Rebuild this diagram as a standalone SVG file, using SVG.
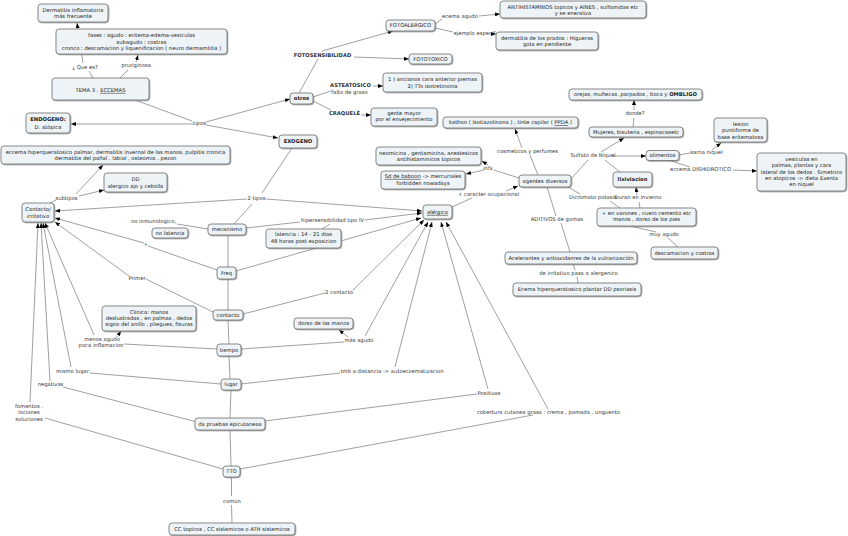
<svg xmlns="http://www.w3.org/2000/svg" width="848" height="536" viewBox="0 0 848 536">
<style>
.n rect{fill:#edf3f6;stroke:#6f6f6f;stroke-width:0.8;filter:url(#sh)}
text{font-family:"DejaVu Sans",Verdana,sans-serif;font-size:5.25px;fill:#222;text-anchor:middle}
.l text{fill:#333}
.b{font-weight:bold}
.i{font-style:italic}
.u{text-decoration:underline}
#connectors path{fill:none;stroke:#777;stroke-width:0.7}
#connectors path.a{marker-end:url(#ah)}
</style>
<defs>
<marker id="ah" viewBox="0 0 10 8" refX="10" refY="4" markerWidth="5" markerHeight="4" markerUnits="userSpaceOnUse" orient="auto"><path d="M0,0 L10,4 L0,8 z" fill="#000"/></marker>
<filter id="sh" x="-10%" y="-20%" width="130%" height="160%"><feDropShadow dx="0.8" dy="0.8" stdDeviation="0.5" flood-color="#777" flood-opacity="0.7"/></filter>
</defs>
<rect width="848" height="536" fill="#fff"/>
<g id="connectors">
<path d="M93,78 L89,71"/>
<path class="a" d="M83,63 L77,23"/>
<path d="M120,78 L128,70"/>
<path class="a" d="M136,62 L138,55"/>
<path d="M135,100 L192,121"/>
<path class="a" d="M193,124 L71,124"/>
<path class="a" d="M206,122 L290,99"/>
<path class="a" d="M206,125 L278,138"/>
<path d="M299,93 L318,59"/>
<path class="a" d="M322,51 L393,31"/>
<path class="a" d="M354,57 L409,59"/>
<path d="M313,97 L331,91"/>
<path class="a" d="M373,86 L383,86"/>
<path d="M313,101 L331,110"/>
<path class="a" d="M361,115 L371,115"/>
<path d="M435,24 L442,19"/>
<path class="a" d="M479,16 L500,14"/>
<path d="M435,28 L453,32"/>
<path class="a" d="M492,34 L496,34"/>
<path d="M292,148 L262,193"/>
<path d="M252,204 L234,224"/>
<path class="a" d="M247,199 L55,211"/>
<path class="a" d="M266,199 L422,211"/>
<path d="M56,200 L50,203"/>
<path class="a" d="M76,194 L103,165"/>
<path class="a" d="M79,196 L104,190"/>
<path d="M208,229 L177,224"/>
<path d="M246,228 L300,222"/>
<path class="a" d="M365,220 L422,213"/>
<path d="M330,224 L322,229"/>
<path d="M228,235 L228,267"/>
<path d="M217,270 L148,246"/>
<path class="a" d="M144,243 L55,218"/>
<path class="a" d="M236,271 L421,218"/>
<path d="M228,279 L228,310"/>
<path d="M213,312 L146,279"/>
<path class="a" d="M129,276 L55,222"/>
<path d="M243,314 L325,293"/>
<path class="a" d="M353,290 L424,220"/>
<path d="M228,320 L229,344"/>
<path d="M217,349 L124,344"/>
<path class="a" d="M117,337 L121,331"/>
<path class="a" d="M94,335 L45,223"/>
<path d="M241,349 L344,342"/>
<path class="a" d="M348,337 L339,330"/>
<path class="a" d="M365,336 L428,222"/>
<path d="M229,356 L230,379"/>
<path d="M221,384 L90,373"/>
<path class="a" d="M71,367 L43,223"/>
<path d="M241,384 L340,373"/>
<path class="a" d="M395,367 L432,222"/>
<path d="M231,390 L230,418"/>
<path d="M197,422 L63,387"/>
<path class="a" d="M50,381 L41,223"/>
<path d="M265,421 L477,394"/>
<path class="a" d="M488,389 L441,222"/>
<path d="M230,430 L231,466"/>
<path d="M223,469 L45,418"/>
<path class="a" d="M30,402 L38,223"/>
<path d="M240,469 L533,415"/>
<path class="a" d="M548,409 L446,222"/>
<path d="M231.5,477 L231.5,496"/>
<path d="M231.5,505 L232,523"/>
<path d="M452,207 L472,198"/>
<path class="a" d="M506,191 L518,186"/>
<path d="M538,175 L530,155"/>
<path class="a" d="M522,148 L515,129"/>
<path d="M519,178 L494,170"/>
<path class="a" d="M488,165 L482,161"/>
<path class="a" d="M484,170 L466,174"/>
<path d="M571,179 L588,160"/>
<path class="a" d="M601,152 L624,138"/>
<path class="a" d="M612,156 L646,156"/>
<path d="M605,160 L620,172"/>
<path d="M633,127 L634,118"/>
<path class="a" d="M634,110 L634,100"/>
<path d="M679,155 L690,153"/>
<path class="a" d="M712,150 L721,143"/>
<path d="M668,160 L690,167"/>
<path class="a" d="M733,170 L757,171"/>
<path d="M568,187 L580,194"/>
<path d="M610,201 L620,208"/>
<path d="M640,208 L639,202"/>
<path class="a" d="M637,195 L636,187"/>
<path d="M630,226 L656,232"/>
<path d="M668,238 L678,247"/>
<path d="M547,187 L556,216"/>
<path d="M561,223 L570,252"/>
<path d="M573,264 L575,270"/>
<path d="M577,277 L578,283"/>
</g>
<g id="labels" class="l">
<text x="85" y="68.9">¿ Que es?</text>
<text x="136" y="67">pruriginosa</text>
<text x="199.5" y="125.2">tipos</text>
<text class="b" x="322.5" y="57">FOTOSENSIBILIDAD</text>
<text class="b" x="350.5" y="87">ASTEATOSICO</text>
<text x="349.5" y="93.5">falto de graso</text>
<text class="b" x="344.5" y="115.2">CRAQUELÉ</text>
<text x="460" y="17.6">ecema agudo</text>
<text x="474.5" y="35.2">ejemplo especif</text>
<text x="527.5" y="152.6">cosmeticos y perfumes</text>
<text x="593" y="156.9">Sulfato de Niquel</text>
<text x="635" y="115.2">donde?</text>
<text x="706.5" y="153.6">sarna niquel</text>
<text x="700.5" y="170.9">eccema DISHIDROTICO</text>
<text x="488" y="170.2">infx</text>
<text x="488.5" y="196.2">+ caracter ocupacional</text>
<text x="593" y="199.2">Dicromato potasio</text>
<text x="638" y="199.2">Duran en invierno</text>
<text x="557" y="220.9">ADITIVOS de gomas</text>
<text x="578.5" y="275.2">de irritativo pasa a alergenico</text>
<text x="664" y="236.2">muy agudo</text>
<text x="256.5" y="200.2">2 tipos</text>
<text x="332.5" y="221.9">hipersensibilidad tipo IV</text>
<text x="153.5" y="222.9">no inmunologico,</text>
<text x="145.7" y="246.2">+</text>
<text x="137" y="279.6">Primer</text>
<text x="339" y="293.9">2 contacto</text>
<text x="102" y="340.9">menos agudo</text>
<text x="101" y="346.9">poca inflamacion</text>
<text x="359" y="341.9">más agudo</text>
<text x="72.5" y="372.9">mismo lugar</text>
<text x="50.5" y="386.2">negativas</text>
<text x="29" y="407.6">fomentos ,</text>
<text x="29" y="414.2">lociones</text>
<text x="29" y="420.6">soluciones</text>
<text x="392" y="372.6">tmb a distancia -&gt; autoeczematizacion</text>
<text x="489" y="395.2">Positivas</text>
<text x="548.5" y="413.6">cobertura cutanea grasa : crema , pomada , unguento</text>
<text x="232" y="502.6">común</text>
<text x="66.5" y="199.6">subtipos</text>
</g>
<g id="n_dermatitis" class="n"><rect x="38" y="4" width="70" height="18" rx="3"/><text x="73" y="11.9">Dermatitis inflamatoria</text><text x="73" y="17.9">más frecuente</text></g>
<g id="n_fases" class="n"><rect x="56" y="29" width="171" height="25" rx="3"/><text x="141.5" y="36.9">fases : agudo : eritema-edema-vesiculas</text><text x="141.5" y="43.5">subagudo : costras</text><text x="141.5" y="50.1">cronco : descamacion y liquenificacion ( neuro dermamtitis  )</text></g>
<g id="n_tema" class="n"><rect x="52" y="78" width="97" height="22" rx="3"/><text x="100.5" y="91.9">TEMA 3 . <tspan class="u">ECCEMAS</tspan></text></g>
<g id="n_endogeno" class="n"><rect x="26" y="113" width="44" height="20" rx="3"/><text class="b" x="48" y="121.2">ENDÓGENO:</text><text x="48" y="128.6">D. atópica</text></g>
<g id="n_eccema" class="n"><rect x="1" y="146" width="229" height="18" rx="3"/><text x="115.5" y="153.6">eccema hiperqueratosico palmar, dermatitis invernal de las manos, pulpitis cronica</text><text x="115.5" y="160.2">dermatitis del pañal , labial , osteomia , pezon</text></g>
<g id="n_dd" class="n"><rect x="104" y="173" width="63" height="19" rx="3"/><text x="135.5" y="181.4">DD</text><text x="135.5" y="187.7">alergico ajo y cebolla</text></g>
<g id="n_contacto" class="n"><rect x="22" y="203" width="32" height="19" rx="3"/><text class="i" x="38" y="211.2">Contacto/</text><text class="i" x="38" y="217.6">irritativo</text></g>
<g id="n_otros" class="n"><rect x="290" y="93" width="23" height="11" rx="3"/><text class="b" x="301.5" y="100.4">otros</text></g>
<g id="n_exogeno" class="n"><rect x="279" y="135" width="38" height="13" rx="3"/><text class="b" x="298" y="143.4">EXOGENO</text></g>
<g id="n_fotoalergico" class="n"><rect x="386" y="20" width="49" height="11" rx="3"/><text x="410.5" y="27.4">FOTOALERGICO</text></g>
<g id="n_fototoxico" class="n"><rect x="409" y="54" width="43" height="10" rx="3"/><text x="430.5" y="60.9">FOTOTOXICO</text></g>
<g id="n_ancianos" class="n"><rect x="383" y="73" width="99" height="19" rx="3"/><text x="432.5" y="81.2">1 ) ancianos cara anterior piernas</text><text x="432.5" y="87.6">2) TTo isotretinoina</text></g>
<g id="n_gente" class="n"><rect x="371" y="108" width="66" height="18" rx="3"/><text x="404" y="115.2">gente mayor</text><text x="404" y="121.2">por el envejecimiento</text></g>
<g id="n_antihist" class="n"><rect x="500" y="1" width="146" height="17" rx="3"/><text x="573" y="8.6">ANTIHISTAMINOS topicos y AINES , sulfamidas etc</text><text x="573" y="14.6">y se eneraliza</text></g>
<g id="n_prados" class="n"><rect x="496" y="32" width="102" height="18" rx="3"/><text x="547" y="39.6">dermatitis de los prados : Higueras</text><text x="547" y="45.6">gota en pendiente</text></g>
<g id="n_kathon" class="n"><rect x="443" y="117" width="135" height="11" rx="3"/><text x="510.5" y="124.4">kathon ( Isotiazolinona ) , tinte capilar ( <tspan class="u">PPDA</tspan> )</text></g>
<g id="n_orejas" class="n"><rect x="569" y="89" width="133" height="11" rx="3"/><text x="635.5" y="96.4">orejas, muñecas ,parpados , boca y <tspan class="b">OMBLIGO</tspan></text></g>
<g id="n_mujeres" class="n"><rect x="589" y="127" width="94" height="10" rx="3"/><text x="636" y="133.9">Mujeres, bisuteria , espinacasetc</text></g>
<g id="n_lesion" class="n"><rect x="714" y="118" width="53" height="24" rx="3"/><text x="740.5" y="126">lesion</text><text x="740.5" y="132.3">puntiforme de</text><text x="740.5" y="138.6">base eritematosa</text></g>
<g id="n_alimentos" class="n"><rect x="646" y="150.5" width="33" height="10" rx="3"/><text x="662.5" y="157.4">alimentos</text></g>
<g id="n_vesiculas" class="n"><rect x="757" y="153" width="89" height="38" rx="3"/><text x="801.5" y="161">vesiculas en</text><text x="801.5" y="167.3">palmas, plantas y cara</text><text x="801.5" y="173.6">lateral de los dedos . Simetrico</text><text x="801.5" y="179.9">en atopicos -&gt; dieta Exenta</text><text x="801.5" y="186.2">en  niquel</text></g>
<g id="n_neomicina" class="n"><rect x="376" y="147" width="105" height="18" rx="3"/><text x="428.5" y="154.6">neomicina , gentamicina, anestesicos</text><text x="428.5" y="160.9">antihistaminicos topicos</text></g>
<g id="n_baboon" class="n"><rect x="381" y="171" width="84" height="18" rx="3"/><text x="423" y="177.9"><tspan class="u">Sd de baboon</tspan> -&gt; mercuriales</text><text x="423" y="184.5">forbidden nowadays</text></g>
<g id="n_agentes" class="n"><rect x="519" y="175" width="52" height="12" rx="3"/><text x="545" y="182.9">agentes diversos</text></g>
<g id="n_lixiviacion" class="n"><rect x="613" y="172" width="39" height="15" rx="3"/><text class="b" x="632.5" y="181.4">lixiviacion</text></g>
<g id="n_varones" class="n"><rect x="597" y="208" width="99" height="18" rx="3"/><text x="646.5" y="215.2">+ en varones , cuero cemento etc</text><text x="646.5" y="221.2">manos , dorso de los pies</text></g>
<g id="n_descamacion" class="n"><rect x="651" y="247" width="67" height="12" rx="3"/><text x="684.5" y="254.9">descamacion y costras</text></g>
<g id="n_acelerantes" class="n"><rect x="505" y="252" width="132" height="12" rx="3"/><text x="571" y="259.9">Acelerantes y antioxidanres de la vulcanización</text></g>
<g id="n_ecema_plantar" class="n"><rect x="513" y="283" width="128" height="13" rx="3"/><text x="577" y="291.4">Ecema hiperqueratosico plantar DD psoriasis</text></g>
<g id="n_alergico" class="n"><rect x="423" y="205" width="29" height="14" rx="3"/><text class="i u" x="437.5" y="213.9">alérgico</text></g>
<g id="n_mecanismo" class="n"><rect x="208" y="224" width="38" height="11" rx="3"/><text x="227" y="231.4">mecanismo</text></g>
<g id="n_nolatencia" class="n"><rect x="152" y="228" width="36" height="10" rx="3"/><text x="170" y="234.9">no latencia</text></g>
<g id="n_latencia" class="n"><rect x="266" y="229" width="75" height="19" rx="3"/><text x="303.5" y="236.4">latencia : 14 - 21 dias</text><text x="303.5" y="243.2">48 horas post exposicion</text></g>
<g id="n_freq" class="n"><rect x="217" y="267" width="19" height="12" rx="3"/><text x="226.5" y="274.9">Freq</text></g>
<g id="n_contacto2" class="n"><rect x="213" y="310" width="30" height="10" rx="3"/><text x="228" y="316.9">contacto</text></g>
<g id="n_clinica" class="n"><rect x="102" y="306" width="94" height="25" rx="3"/><text x="149" y="313.6">Clinica: manos</text><text x="149" y="319.9">deslustradas , en palmas , dedos</text><text x="149" y="326.2">signo del anillo , pliegues, fisuras</text></g>
<g id="n_dorso" class="n"><rect x="294" y="318" width="59" height="11" rx="3"/><text x="323.5" y="325.4">dorso de las manos</text></g>
<g id="n_tiempo" class="n"><rect x="217" y="344" width="24" height="12" rx="3"/><text x="229" y="351.9">tiempo</text></g>
<g id="n_lugar" class="n"><rect x="221" y="379" width="20" height="11" rx="3"/><text x="231" y="386.4">lugar</text></g>
<g id="n_dx" class="n"><rect x="195" y="418" width="70" height="12" rx="3"/><text x="230" y="425.9">dx pruebas epicutaneas</text></g>
<g id="n_tto" class="n"><rect x="223" y="466" width="17" height="11" rx="3"/><text x="231.5" y="473.4">TTO</text></g>
<g id="n_cc" class="n"><rect x="169" y="523" width="126" height="12" rx="3"/><text x="232" y="530.9">CC topicos , CC sistemicos o ATH  sistemicos</text></g>
</svg>
